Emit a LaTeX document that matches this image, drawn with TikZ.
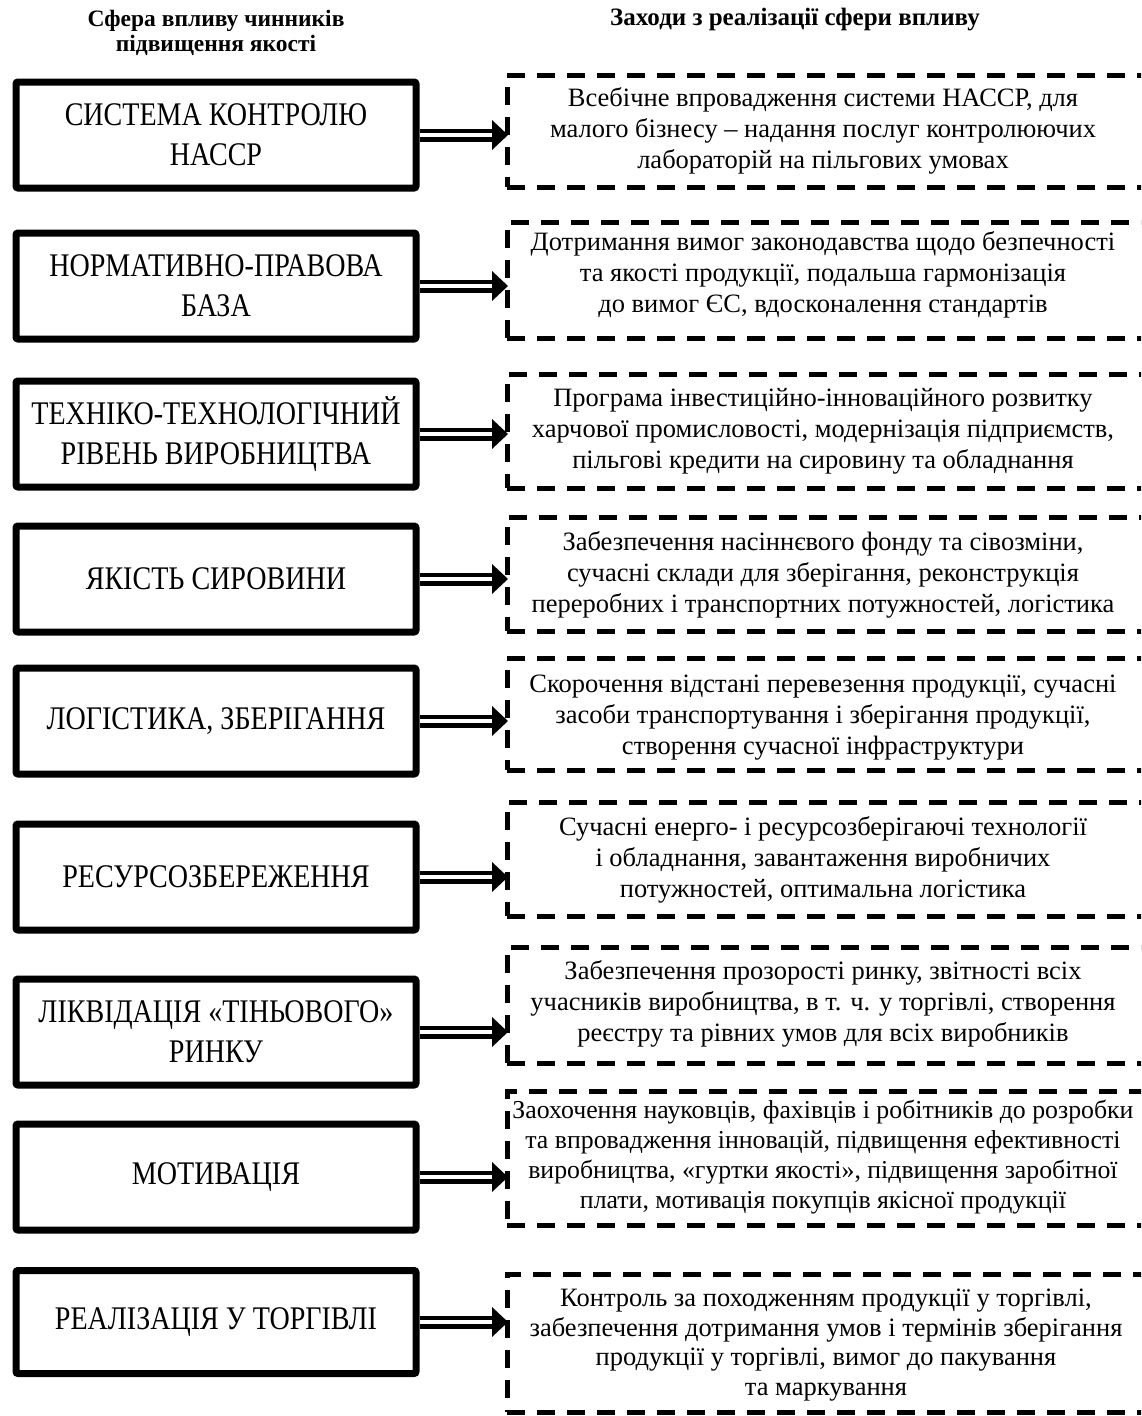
\documentclass[tikz,border=0pt]{standalone}
\usepackage{fontspec}
\setmainfont{Liberation Serif}
\newfontfamily\condfont[FakeStretch=0.85]{Liberation Serif}
\newcommand{\dblarrow}[2]{%
  \draw[line width=13pt] (#1.east) -- ([xshift=-13pt]#2.west |- #1.east);
  \draw[white, line width=4pt] (#1.east) -- ([xshift=-10pt]#2.west |- #1.east);
  \fill ([xshift=-15pt,yshift=-15pt]#2.west |- #1.east) -- ([xshift=1pt]#2.west |- #1.east) -- ([xshift=-15pt,yshift=15pt]#2.west |- #1.east) -- cycle;
}
\begin{document}
\begin{tikzpicture}[x=1pt,y=-1pt,
  lbox/.style={draw, line width=7pt, rounded corners=2pt, minimum width=400pt, minimum height=106pt, inner sep=0pt, align=center, font=\condfont\fontsize{33}{40}\selectfont},
  dbox/.style={draw, line width=5pt, dash pattern=on 18pt off 12pt, minimum width=643pt, inner sep=0pt, outer sep=0pt, anchor=west},
  dtext/.style={align=center, inner sep=0pt, font=\fontsize{26.5}{31}\selectfont},
  hdr/.style={align=center, inner sep=0pt, font=\bfseries\fontsize{23.5}{25}\selectfont}]
\useasboundingbox (0,0) rectangle (1141,1416);
\clip (0,0) rectangle (1141,1416);
\fill[white] (0,0) rectangle (1141,1416);

\node[hdr] (h1) at (216,33) {Сфера впливу чинників\\підвищення якості};
\node[hdr, font=\bfseries\fontsize{25}{25}\selectfont] (h2) at (795,20) {Заходи з реалізації сфери впливу};

\node[lbox] (b1) at (216,135) {СИСТЕМА КОНТРОЛЮ\\НАССР};
\node[lbox] (b2) at (216,286) {НОРМАТИВНО-ПРАВОВА\\БАЗА};
\node[lbox] (b3) at (216,434) {ТЕХНІКО-ТЕХНОЛОГІЧНИЙ\\РІВЕНЬ ВИРОБНИЦТВА};
\node[lbox] (b4) at (216,579) {ЯКІСТЬ СИРОВИНИ};
\node[lbox] (b5) at (216,721) {ЛОГІСТИКА, ЗБЕРІГАННЯ};
\node[lbox] (b6) at (216,877) {РЕСУРСОЗБЕРЕЖЕННЯ};
\node[lbox] (b7) at (216,1032) {ЛІКВІДАЦІЯ «ТІНЬОВОГО»\\РИНКУ};
\node[lbox] (b8) at (216,1177) {МОТИВАЦІЯ};
\node[lbox, minimum height=103pt] (b9) at (216,1322) {РЕАЛІЗАЦІЯ У ТОРГІВЛІ};

\node[dbox, minimum height=112pt] (d1) at (507,131) {};
\node[dbox, minimum height=116pt] (d2) at (507,280) {};
\node[dbox, minimum height=114pt] (d3) at (507,431) {};
\node[dbox, minimum height=114pt] (d4) at (507,574) {};
\node[dbox, minimum height=112pt] (d5) at (507,714) {};
\node[dbox, minimum height=114pt] (d6) at (507,859) {};
\node[dbox, minimum height=116pt] (d7) at (507,1005) {};
\node[dbox, minimum height=134pt] (d8) at (507,1158) {};
\node[dbox, minimum height=138pt] (d9) at (507,1343) {};

\node[dtext] (t1) at (823,131) {Всебічне впровадження системи НАССР, для\\малого бізнесу – надання послуг контролюючих\\лабораторій на пільгових умовах};
\node[dtext] (t2) at (823,275) {Дотримання вимог законодавства щодо безпечності\\та якості продукції, подальша гармонізація\\до вимог ЄС, вдосконалення стандартів};
\node[dtext] (t3) at (823,431) {Програма інвестиційно-інноваційного розвитку\\харчової промисловості, модернізація підприємств,\\пільгові кредити на сировину та обладнання};
\node[dtext] (t4) at (823,575) {Забезпечення насіннєвого фонду та сівозміни,\\сучасні склади для зберігання, реконструкція\\переробних і транспортних потужностей, логістика};
\node[dtext] (t5) at (823,718) {Скорочення відстані перевезення продукції, сучасні\\засоби транспортування і зберігання продукції,\\створення сучасної інфраструктури};
\node[dtext] (t6) at (823,860) {Сучасні енерго- і ресурсозберігаючі технології\\і обладнання, завантаження виробничих\\потужностей, оптимальна логістика};
\node[dtext] (t7) at (823,1004) {Забезпечення прозорості ринку, звітності всіх\\учасників виробництва, в т. ч. у торгівлі, створення\\реєстру та рівних умов для всіх виробників};
\node[dtext, font=\fontsize{25.8}{30}\selectfont] (t8) at (823,1157) {Заохочення науковців, фахівців і робітників до розробки\\та впровадження інновацій, підвищення ефективності\\виробництва, «гуртки якості», підвищення заробітної\\плати, мотивація покупців якісної продукції};
\node[dtext, font=\fontsize{26.5}{29.5}\selectfont] (t9) at (826,1345) {Контроль за походженням продукції у торгівлі,\\забезпечення дотримання умов і термінів зберігання\\продукції у торгівлі, вимог до пакування\\та маркування};

\dblarrow{b1}{d1}
\dblarrow{b2}{d2}
\dblarrow{b3}{d3}
\dblarrow{b4}{d4}
\dblarrow{b5}{d5}
\dblarrow{b6}{d6}
\dblarrow{b7}{d7}
\dblarrow{b8}{d8}
\dblarrow{b9}{d9}
\end{tikzpicture}
\end{document}
